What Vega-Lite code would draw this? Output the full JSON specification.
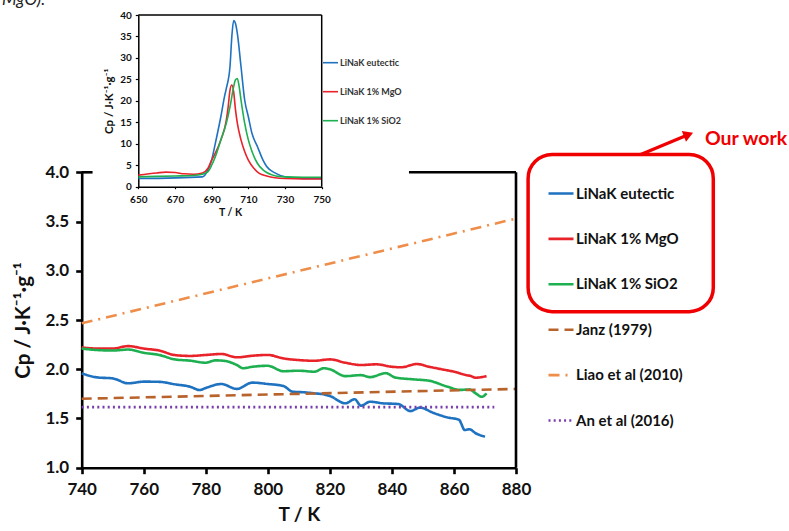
{
  "$schema": "https://vega.github.io/schema/vega-lite/v6.json",
  "width": 789,
  "height": 531,
  "autosize": {"type": "none"},
  "padding": 0,
  "config": {"view": {"stroke": null}, "font": "Lato"},
  "datasets": {
    "main": [
      {"s": "LiNaK eutectic", "T": 740, "Cp": 1.958}, {"s": "LiNaK eutectic", "T": 745, "Cp": 1.917}, {"s": "LiNaK eutectic", "T": 750, "Cp": 1.907}, {"s": "LiNaK eutectic", "T": 755, "Cp": 1.857}, {"s": "LiNaK eutectic", "T": 760, "Cp": 1.874}, {"s": "LiNaK eutectic", "T": 765, "Cp": 1.872}, {"s": "LiNaK eutectic", "T": 770, "Cp": 1.847}, {"s": "LiNaK eutectic", "T": 775, "Cp": 1.822}, {"s": "LiNaK eutectic", "T": 778, "Cp": 1.789}, {"s": "LiNaK eutectic", "T": 780, "Cp": 1.81}, {"s": "LiNaK eutectic", "T": 785, "Cp": 1.85}, {"s": "LiNaK eutectic", "T": 790, "Cp": 1.8}, {"s": "LiNaK eutectic", "T": 795, "Cp": 1.864}, {"s": "LiNaK eutectic", "T": 800, "Cp": 1.85}, {"s": "LiNaK eutectic", "T": 805, "Cp": 1.83}, {"s": "LiNaK eutectic", "T": 808, "Cp": 1.772}, {"s": "LiNaK eutectic", "T": 812, "Cp": 1.765}, {"s": "LiNaK eutectic", "T": 815, "Cp": 1.755}, {"s": "LiNaK eutectic", "T": 818, "Cp": 1.745}, {"s": "LiNaK eutectic", "T": 820, "Cp": 1.728}, {"s": "LiNaK eutectic", "T": 825, "Cp": 1.654}, {"s": "LiNaK eutectic", "T": 828, "Cp": 1.695}, {"s": "LiNaK eutectic", "T": 830, "Cp": 1.63}, {"s": "LiNaK eutectic", "T": 833, "Cp": 1.67}, {"s": "LiNaK eutectic", "T": 837, "Cp": 1.654}, {"s": "LiNaK eutectic", "T": 842, "Cp": 1.647}, {"s": "LiNaK eutectic", "T": 846, "Cp": 1.575}, {"s": "LiNaK eutectic", "T": 849, "Cp": 1.61}, {"s": "LiNaK eutectic", "T": 853.5, "Cp": 1.555}, {"s": "LiNaK eutectic", "T": 858, "Cp": 1.51}, {"s": "LiNaK eutectic", "T": 861.6, "Cp": 1.487}, {"s": "LiNaK eutectic", "T": 863.5, "Cp": 1.383}, {"s": "LiNaK eutectic", "T": 865, "Cp": 1.39}, {"s": "LiNaK eutectic", "T": 867, "Cp": 1.35}, {"s": "LiNaK eutectic", "T": 870, "Cp": 1.315},
      {"s": "LiNaK 1% MgO", "T": 740, "Cp": 2.222}, {"s": "LiNaK 1% MgO", "T": 745, "Cp": 2.21}, {"s": "LiNaK 1% MgO", "T": 750, "Cp": 2.21}, {"s": "LiNaK 1% MgO", "T": 755, "Cp": 2.235}, {"s": "LiNaK 1% MgO", "T": 760, "Cp": 2.21}, {"s": "LiNaK 1% MgO", "T": 765, "Cp": 2.19}, {"s": "LiNaK 1% MgO", "T": 770, "Cp": 2.144}, {"s": "LiNaK 1% MgO", "T": 775, "Cp": 2.135}, {"s": "LiNaK 1% MgO", "T": 780, "Cp": 2.145}, {"s": "LiNaK 1% MgO", "T": 785, "Cp": 2.155}, {"s": "LiNaK 1% MgO", "T": 790, "Cp": 2.121}, {"s": "LiNaK 1% MgO", "T": 795, "Cp": 2.137}, {"s": "LiNaK 1% MgO", "T": 800, "Cp": 2.145}, {"s": "LiNaK 1% MgO", "T": 805, "Cp": 2.11}, {"s": "LiNaK 1% MgO", "T": 810, "Cp": 2.093}, {"s": "LiNaK 1% MgO", "T": 815, "Cp": 2.086}, {"s": "LiNaK 1% MgO", "T": 820, "Cp": 2.1}, {"s": "LiNaK 1% MgO", "T": 825, "Cp": 2.066}, {"s": "LiNaK 1% MgO", "T": 830, "Cp": 2.043}, {"s": "LiNaK 1% MgO", "T": 835, "Cp": 2.05}, {"s": "LiNaK 1% MgO", "T": 840, "Cp": 2.025}, {"s": "LiNaK 1% MgO", "T": 843, "Cp": 2.02}, {"s": "LiNaK 1% MgO", "T": 848, "Cp": 2.053}, {"s": "LiNaK 1% MgO", "T": 852, "Cp": 2.025}, {"s": "LiNaK 1% MgO", "T": 856, "Cp": 2.0}, {"s": "LiNaK 1% MgO", "T": 860, "Cp": 1.975}, {"s": "LiNaK 1% MgO", "T": 864, "Cp": 1.94}, {"s": "LiNaK 1% MgO", "T": 865.5, "Cp": 1.93}, {"s": "LiNaK 1% MgO", "T": 867, "Cp": 1.914}, {"s": "LiNaK 1% MgO", "T": 870.5, "Cp": 1.93},
      {"s": "LiNaK 1% SiO2", "T": 740, "Cp": 2.21}, {"s": "LiNaK 1% SiO2", "T": 745, "Cp": 2.195}, {"s": "LiNaK 1% SiO2", "T": 750, "Cp": 2.19}, {"s": "LiNaK 1% SiO2", "T": 755, "Cp": 2.2}, {"s": "LiNaK 1% SiO2", "T": 760, "Cp": 2.167}, {"s": "LiNaK 1% SiO2", "T": 765, "Cp": 2.145}, {"s": "LiNaK 1% SiO2", "T": 770, "Cp": 2.1}, {"s": "LiNaK 1% SiO2", "T": 775, "Cp": 2.087}, {"s": "LiNaK 1% SiO2", "T": 780, "Cp": 2.066}, {"s": "LiNaK 1% SiO2", "T": 783, "Cp": 2.09}, {"s": "LiNaK 1% SiO2", "T": 786, "Cp": 2.085}, {"s": "LiNaK 1% SiO2", "T": 790, "Cp": 2.043}, {"s": "LiNaK 1% SiO2", "T": 792, "Cp": 2.01}, {"s": "LiNaK 1% SiO2", "T": 795, "Cp": 2.025}, {"s": "LiNaK 1% SiO2", "T": 800, "Cp": 2.035}, {"s": "LiNaK 1% SiO2", "T": 805, "Cp": 1.98}, {"s": "LiNaK 1% SiO2", "T": 810, "Cp": 1.985}, {"s": "LiNaK 1% SiO2", "T": 815, "Cp": 1.975}, {"s": "LiNaK 1% SiO2", "T": 818, "Cp": 2.01}, {"s": "LiNaK 1% SiO2", "T": 820, "Cp": 2.0}, {"s": "LiNaK 1% SiO2", "T": 825, "Cp": 1.93}, {"s": "LiNaK 1% SiO2", "T": 830, "Cp": 1.94}, {"s": "LiNaK 1% SiO2", "T": 833, "Cp": 1.92}, {"s": "LiNaK 1% SiO2", "T": 838, "Cp": 1.96}, {"s": "LiNaK 1% SiO2", "T": 841, "Cp": 1.917}, {"s": "LiNaK 1% SiO2", "T": 847, "Cp": 1.897}, {"s": "LiNaK 1% SiO2", "T": 852, "Cp": 1.883}, {"s": "LiNaK 1% SiO2", "T": 858, "Cp": 1.822}, {"s": "LiNaK 1% SiO2", "T": 862, "Cp": 1.79}, {"s": "LiNaK 1% SiO2", "T": 865, "Cp": 1.795}, {"s": "LiNaK 1% SiO2", "T": 867, "Cp": 1.755}, {"s": "LiNaK 1% SiO2", "T": 869, "Cp": 1.72}, {"s": "LiNaK 1% SiO2", "T": 870.5, "Cp": 1.755},
      {"s": "Janz (1979)", "T": 740, "Cp": 1.7}, {"s": "Janz (1979)", "T": 880, "Cp": 1.8},
      {"s": "Liao et al (2010)", "T": 740, "Cp": 2.466}, {"s": "Liao et al (2010)", "T": 880, "Cp": 3.53},
      {"s": "An et al (2016)", "T": 740, "Cp": 1.615}, {"s": "An et al (2016)", "T": 873, "Cp": 1.615}
    ],
    "inset": [
      {"s": "LiNaK eutectic", "T": 650, "Cp": 1.9}, {"s": "LiNaK eutectic", "T": 685, "Cp": 2.3}, {"s": "LiNaK eutectic", "T": 688, "Cp": 3.9}, {"s": "LiNaK eutectic", "T": 690, "Cp": 6.2}, {"s": "LiNaK eutectic", "T": 692, "Cp": 10.1}, {"s": "LiNaK eutectic", "T": 695, "Cp": 16.3}, {"s": "LiNaK eutectic", "T": 697, "Cp": 21}, {"s": "LiNaK eutectic", "T": 698, "Cp": 22.9}, {"s": "LiNaK eutectic", "T": 700, "Cp": 28}, {"s": "LiNaK eutectic", "T": 701, "Cp": 35}, {"s": "LiNaK eutectic", "T": 702, "Cp": 38.7}, {"s": "LiNaK eutectic", "T": 703, "Cp": 38}, {"s": "LiNaK eutectic", "T": 704, "Cp": 35.7}, {"s": "LiNaK eutectic", "T": 706, "Cp": 28}, {"s": "LiNaK eutectic", "T": 708, "Cp": 20.2}, {"s": "LiNaK eutectic", "T": 710, "Cp": 16.3}, {"s": "LiNaK eutectic", "T": 712, "Cp": 12.4}, {"s": "LiNaK eutectic", "T": 715, "Cp": 9.3}, {"s": "LiNaK eutectic", "T": 718, "Cp": 6.2}, {"s": "LiNaK eutectic", "T": 720, "Cp": 4.7}, {"s": "LiNaK eutectic", "T": 725, "Cp": 3.1}, {"s": "LiNaK eutectic", "T": 730, "Cp": 2.3}, {"s": "LiNaK eutectic", "T": 740, "Cp": 1.9}, {"s": "LiNaK eutectic", "T": 750, "Cp": 1.9},
      {"s": "LiNaK 1% MgO", "T": 650, "Cp": 2.7}, {"s": "LiNaK 1% MgO", "T": 660, "Cp": 3.2}, {"s": "LiNaK 1% MgO", "T": 665, "Cp": 3.4}, {"s": "LiNaK 1% MgO", "T": 670, "Cp": 3.3}, {"s": "LiNaK 1% MgO", "T": 675, "Cp": 3.0}, {"s": "LiNaK 1% MgO", "T": 680, "Cp": 2.9}, {"s": "LiNaK 1% MgO", "T": 685, "Cp": 3.2}, {"s": "LiNaK 1% MgO", "T": 688, "Cp": 4.3}, {"s": "LiNaK 1% MgO", "T": 690, "Cp": 6.2}, {"s": "LiNaK 1% MgO", "T": 692, "Cp": 7.8}, {"s": "LiNaK 1% MgO", "T": 695, "Cp": 10.9}, {"s": "LiNaK 1% MgO", "T": 698, "Cp": 15.5}, {"s": "LiNaK 1% MgO", "T": 699, "Cp": 18.6}, {"s": "LiNaK 1% MgO", "T": 700, "Cp": 22.5}, {"s": "LiNaK 1% MgO", "T": 701, "Cp": 23.7}, {"s": "LiNaK 1% MgO", "T": 702, "Cp": 22.1}, {"s": "LiNaK 1% MgO", "T": 703, "Cp": 17.9}, {"s": "LiNaK 1% MgO", "T": 704, "Cp": 14.8}, {"s": "LiNaK 1% MgO", "T": 706, "Cp": 10.9}, {"s": "LiNaK 1% MgO", "T": 708, "Cp": 8.2}, {"s": "LiNaK 1% MgO", "T": 710, "Cp": 6.2}, {"s": "LiNaK 1% MgO", "T": 713, "Cp": 4.3}, {"s": "LiNaK 1% MgO", "T": 716, "Cp": 3.1}, {"s": "LiNaK 1% MgO", "T": 720, "Cp": 2.5}, {"s": "LiNaK 1% MgO", "T": 730, "Cp": 1.9}, {"s": "LiNaK 1% MgO", "T": 740, "Cp": 1.8}, {"s": "LiNaK 1% MgO", "T": 750, "Cp": 1.8},
      {"s": "LiNaK 1% SiO2", "T": 650, "Cp": 2.3}, {"s": "LiNaK 1% SiO2", "T": 670, "Cp": 2.5}, {"s": "LiNaK 1% SiO2", "T": 680, "Cp": 2.6}, {"s": "LiNaK 1% SiO2", "T": 685, "Cp": 2.9}, {"s": "LiNaK 1% SiO2", "T": 688, "Cp": 3.5}, {"s": "LiNaK 1% SiO2", "T": 690, "Cp": 5}, {"s": "LiNaK 1% SiO2", "T": 692, "Cp": 7}, {"s": "LiNaK 1% SiO2", "T": 695, "Cp": 10.9}, {"s": "LiNaK 1% SiO2", "T": 698, "Cp": 14.8}, {"s": "LiNaK 1% SiO2", "T": 700, "Cp": 18.6}, {"s": "LiNaK 1% SiO2", "T": 702, "Cp": 23.3}, {"s": "LiNaK 1% SiO2", "T": 703, "Cp": 24.9}, {"s": "LiNaK 1% SiO2", "T": 704, "Cp": 25.2}, {"s": "LiNaK 1% SiO2", "T": 705, "Cp": 23.3}, {"s": "LiNaK 1% SiO2", "T": 706, "Cp": 20.2}, {"s": "LiNaK 1% SiO2", "T": 708, "Cp": 14.8}, {"s": "LiNaK 1% SiO2", "T": 710, "Cp": 10.9}, {"s": "LiNaK 1% SiO2", "T": 712, "Cp": 8.2}, {"s": "LiNaK 1% SiO2", "T": 715, "Cp": 5.4}, {"s": "LiNaK 1% SiO2", "T": 718, "Cp": 3.9}, {"s": "LiNaK 1% SiO2", "T": 720, "Cp": 3.3}, {"s": "LiNaK 1% SiO2", "T": 725, "Cp": 2.5}, {"s": "LiNaK 1% SiO2", "T": 730, "Cp": 2.3}, {"s": "LiNaK 1% SiO2", "T": 740, "Cp": 2.2}, {"s": "LiNaK 1% SiO2", "T": 750, "Cp": 2.2}
    ]
  },
  "layer": [
    {
      "layer": [
        {
          "data": {"name": "main"},
          "mark": {"type": "line", "strokeWidth": 2.6, "interpolate": "monotone"},
          "encoding": {
            "x": {"field": "T", "type": "quantitative",
              "scale": {"domain": [740, 880], "range": [81.7, 516], "nice": false, "zero": false},
              "axis": {"orient": "bottom", "offset": -63.3, "values": [740, 760, 780, 800, 820, 840, 860, 880], "grid": false, "labelFlush": false,
                "domainColor": "black", "domainWidth": 2.6, "tickColor": "black", "tickWidth": 2.6, "tickSize": 6,
                "labelFont": "Lato", "labelFontSize": 17, "labelFontWeight": "bold", "labelColor": "#111", "labelPadding": 8,
                "title": "T / K", "titleFont": "Lato", "titleFontSize": 19, "titleFontWeight": "bold", "titleColor": "#111", "titlePadding": 8}},
            "y": {"field": "Cp", "type": "quantitative",
              "scale": {"domain": [1, 4], "range": [467.7, 172.3], "nice": false, "zero": false},
              "axis": {"orient": "left", "offset": -81.7, "values": [1, 1.5, 2, 2.5, 3, 3.5, 4], "format": ".1f", "grid": false, "labelFlush": false,
                "domainColor": "black", "domainWidth": 2.6, "tickColor": "black", "tickWidth": 2.6, "tickSize": 6,
                "labelFont": "Lato", "labelFontSize": 17, "labelFontWeight": "bold", "labelColor": "#111", "labelPadding": 7,
                "title": "Cp / J·K⁻¹·g⁻¹", "titleFont": "Lato", "titleFontSize": 20.5, "titleFontWeight": "bold", "titleColor": "#111", "titlePadding": 11}},
            "color": {"field": "s", "type": "nominal",
              "scale": {"domain": ["LiNaK eutectic", "LiNaK 1% MgO", "LiNaK 1% SiO2", "Janz (1979)", "Liao et al (2010)", "An et al (2016)"],
                "range": ["#1F72C0", "#E8232A", "#1DAF50", "#B8632B", "#EE8E4A", "#7A3DB0"]},
              "legend": {"orient": "none", "legendX": 547, "legendY": 179.5, "title": null, "padding": 0,
                "symbolType": "stroke", "symbolSize": 625, "symbolStrokeWidth": 2.6, "rowPadding": 23.4,
                "labelFont": "Lato", "labelFontSize": 15, "labelFontWeight": "bold", "labelColor": "#111", "labelOffset": 1, "labelLimit": 300}},
            "strokeDash": {"field": "s", "type": "nominal",
              "scale": {"domain": ["LiNaK eutectic", "LiNaK 1% MgO", "LiNaK 1% SiO2", "Janz (1979)", "Liao et al (2010)", "An et al (2016)"],
                "range": [[1, 0], [1, 0], [1, 0], [10, 6], [11, 6, 2, 6], [2, 3.2]]},
              "legend": {"orient": "none", "legendX": 547, "legendY": 179.5, "title": null, "padding": 0,
                "symbolType": "stroke", "symbolSize": 625, "symbolStrokeWidth": 2.6, "rowPadding": 23.4,
                "labelFont": "Lato", "labelFontSize": 15, "labelFontWeight": "bold", "labelColor": "#111", "labelOffset": 1, "labelLimit": 300}}
          }
        },
        {
          "data": {"values": [
            {"x": 740, "x2": 743.5, "y": 4, "y2": 4},
            {"x": 845.5, "x2": 880, "y": 4, "y2": 4},
            {"x": 880, "x2": 880, "y": 1, "y2": 4}
          ]},
          "mark": {"type": "rule", "color": "black", "strokeWidth": 2.6},
          "encoding": {
            "x": {"field": "x", "type": "quantitative"}, "x2": {"field": "x2"},
            "y": {"field": "y", "type": "quantitative"}, "y2": {"field": "y2"}
          }
        },
        {
          "data": {"values": [{"x": 883.9, "x2": 943.6, "y": 4.18, "y2": 2.585}]},
          "mark": {"type": "rect", "fill": null, "fillOpacity": 0, "stroke": "#F00000", "strokeWidth": 3.5, "cornerRadius": 24},
          "encoding": {
            "x": {"field": "x", "type": "quantitative"}, "x2": {"field": "x2"},
            "y": {"field": "y", "type": "quantitative"}, "y2": {"field": "y2"}
          }
        },
        {
          "data": {"values": [{"x": 920.2, "x2": 934.5, "y": 4.18, "y2": 4.368}]},
          "mark": {"type": "rule", "color": "#F00000", "strokeWidth": 3.2},
          "encoding": {
            "x": {"field": "x", "type": "quantitative"}, "x2": {"field": "x2"},
            "y": {"field": "y", "type": "quantitative"}, "y2": {"field": "y2"}
          }
        },
        {
          "data": {"values": [{"x": 935.6, "y": 4.383}]},
          "mark": {"type": "point", "shape": "triangle-right", "filled": true, "color": "#F00000", "opacity": 1, "size": 130, "angle": -21.5},
          "encoding": {
            "x": {"field": "x", "type": "quantitative"},
            "y": {"field": "y", "type": "quantitative"}
          }
        },
        {
          "data": {"values": [{"x": 940.9, "y": 4.276, "label": "Our work"}]},
          "mark": {"type": "text", "align": "left", "baseline": "alphabetic", "font": "Lato", "fontSize": 19.5, "fontWeight": "bold", "color": "#F00000"},
          "encoding": {
            "x": {"field": "x", "type": "quantitative"},
            "y": {"field": "y", "type": "quantitative"},
            "text": {"field": "label"}
          }
        },
        {
          "data": {"values": [{"x": 714.3, "y": 5.697, "label": "MgO)."}]},
          "mark": {"type": "text", "align": "left", "baseline": "alphabetic", "font": "Lato", "fontSize": 17, "fontStyle": "italic", "color": "#222"},
          "encoding": {
            "x": {"field": "x", "type": "quantitative"},
            "y": {"field": "y", "type": "quantitative"},
            "text": {"field": "label"}
          }
        }
      ]
    },
    {
      "layer": [
        {
          "data": {"name": "inset"},
          "mark": {"type": "line", "strokeWidth": 1.6, "interpolate": "monotone"},
          "encoding": {
            "x": {"field": "T", "type": "quantitative",
              "scale": {"domain": [650, 750], "range": [138.3, 321.7], "nice": false, "zero": false},
              "axis": {"orient": "bottom", "offset": -344.3, "values": [650, 670, 690, 710, 730, 750], "grid": false, "labelFlush": false,
                "domainColor": "black", "domainWidth": 1.5, "tickColor": "black", "tickWidth": 1.2, "tickSize": 2,
                "labelFont": "Lato", "labelFontSize": 10, "labelFontWeight": "bold", "labelColor": "#111", "labelPadding": 6,
                "title": "T / K", "titleFont": "Lato", "titleFontSize": 10.5, "titleFontWeight": "bold", "titleColor": "#111", "titlePadding": 3}},
            "y": {"field": "Cp", "type": "quantitative",
              "scale": {"domain": [0, 40], "range": [186.7, 15], "nice": false, "zero": false},
              "axis": {"orient": "left", "offset": -138.3, "values": [0, 5, 10, 15, 20, 25, 30, 35, 40], "grid": false, "labelFlush": false,
                "domainColor": "black", "domainWidth": 1.5, "tickColor": "black", "tickWidth": 1.2, "tickSize": 3,
                "labelFont": "Lato", "labelFontSize": 10, "labelFontWeight": "bold", "labelColor": "#111", "labelPadding": 4,
                "title": "Cp / J·K⁻¹·g⁻¹", "titleFont": "Lato", "titleFontSize": 11.5, "titleFontWeight": "bold", "titleColor": "#111", "titlePadding": 5}},
            "color": {"field": "s", "type": "nominal",
              "scale": {"domain": ["LiNaK eutectic", "LiNaK 1% MgO", "LiNaK 1% SiO2"], "range": ["#1F72C0", "#E8232A", "#1DAF50"]},
              "legend": {"orient": "none", "legendX": 322, "legendY": 54.2, "title": null, "padding": 0,
                "symbolType": "stroke", "symbolSize": 225, "symbolStrokeWidth": 1.6, "rowPadding": 15,
                "labelFont": "Lato", "labelFontSize": 9, "labelFontWeight": "bold", "labelColor": "#333", "labelOffset": 1, "labelLimit": 200}}
          }
        },
        {
          "data": {"values": [
            {"x": 650, "x2": 750, "y": 40, "y2": 40},
            {"x": 750, "x2": 750, "y": 0, "y2": 40}
          ]},
          "mark": {"type": "rule", "color": "black", "strokeWidth": 1.5},
          "encoding": {
            "x": {"field": "x", "type": "quantitative"}, "x2": {"field": "x2"},
            "y": {"field": "y", "type": "quantitative"}, "y2": {"field": "y2"}
          }
        }
      ]
    }
  ],
  "resolve": {
    "scale": {"x": "independent", "y": "independent", "color": "independent", "strokeDash": "independent"},
    "axis": {"x": "independent", "y": "independent"},
    "legend": {"color": "independent", "strokeDash": "independent"}
  }
}
